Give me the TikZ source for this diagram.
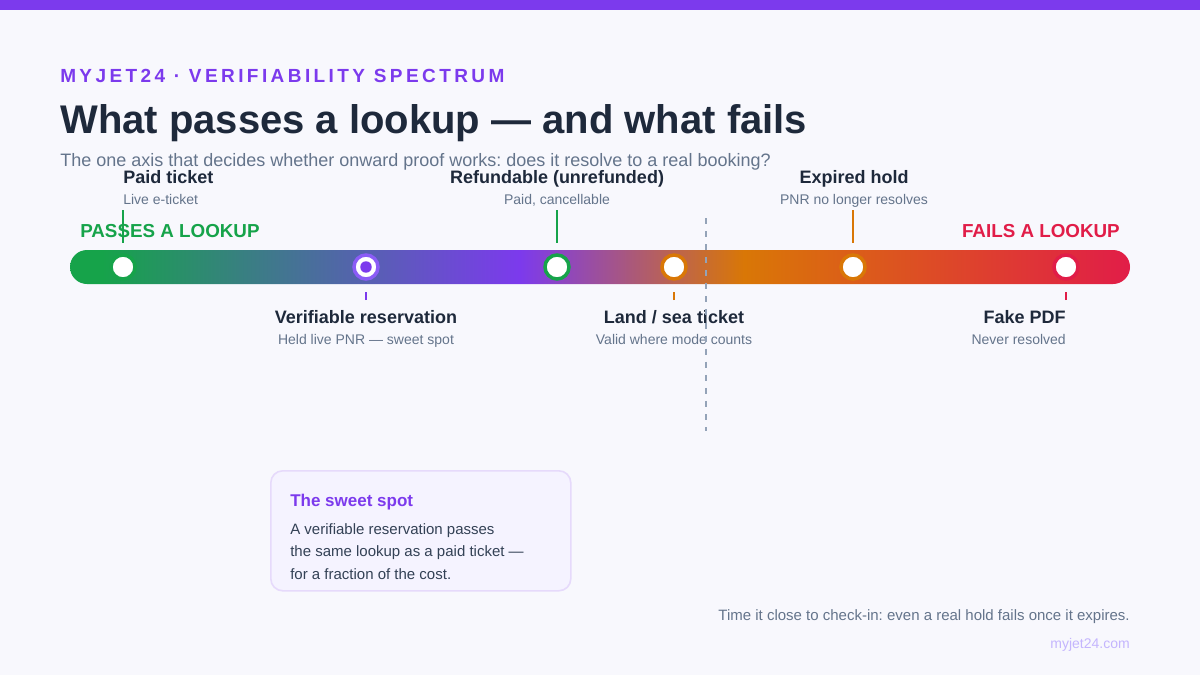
\documentclass[tikz,border=0pt]{standalone}
\usepackage{fontspec}
\setmainfont{Liberation Sans}
\newfontfamily\kickerfont[LetterSpace=18]{Liberation Sans}
\usepackage{tikz}
\frenchspacing
\definecolor{bgc}{HTML}{F8F8FD}
\definecolor{vpurple}{HTML}{7C3AED}
\definecolor{ringpurple}{HTML}{8B5CF6}
\definecolor{ink}{HTML}{1E293B}
\definecolor{slate}{HTML}{64748B}
\definecolor{passgreen}{HTML}{16A34A}
\definecolor{amber}{HTML}{D97706}
\definecolor{crimson}{HTML}{E11D48}
\definecolor{boxfill}{HTML}{F5F3FF}
\definecolor{boxline}{HTML}{E6DAFB}
\definecolor{boxtext}{HTML}{334155}
\definecolor{urlc}{HTML}{C4B5FD}
\definecolor{cutc}{HTML}{94A3B8}
\pgfdeclarehorizontalshading{spectrum}{100bp}{color(0bp)=(passgreen); color(26.5bp)=(passgreen); color(46.2bp)=(vpurple); color(56.8bp)=(amber); color(75bp)=(crimson); color(100bp)=(crimson)}

\begin{document}
\begin{tikzpicture}[x=0.75pt,y=-0.75pt,
  dot/.style={circle, fill=white, draw=#1, line width=2.6pt, minimum size=18pt, inner sep=0pt},
  tick/.style={draw=#1, line width=1.5pt},
  lbl/.style={text=ink, inner sep=0pt, font=\fontsize{13.5}{16}\selectfont\bfseries},
  sub/.style={text=slate, inner sep=0pt, font=\fontsize{10.5}{13}\selectfont},
  side/.style={text=#1, inner sep=0pt, font=\fontsize{14.1}{16}\selectfont\bfseries},
  cutline/.style={draw=cutc, line width=1.5pt, dash pattern=on 4.5pt off 5.3pt},
  sweetbox/.style={draw=boxline, fill=boxfill, line width=1.2pt, rounded corners=9pt,
    minimum width=225pt, minimum height=90pt, inner sep=0pt}]
\useasboundingbox (0,0) rectangle (1200,675);
\fill[bgc] (0,0) rectangle (1200,675);
\fill[vpurple] (0,0) rectangle (1200,10);

\node[anchor=base west, inner sep=0pt, text=vpurple, font=\kickerfont\fontsize{14.25}{17}\selectfont\bfseries] (kicker) at (60,82) {MYJET24 · VERIFIABILITY SPECTRUM};
\node[anchor=base west, inner sep=0pt, text=ink, font=\fontsize{30}{34}\selectfont\bfseries] (title) at (60,133) {What passes a lookup — and what fails};
\node[anchor=base west, inner sep=0pt, text=slate, font=\fontsize{13.5}{16}\selectfont] (subtitle) at (60,166) {The one axis that decides whether onward proof works: does it resolve to a real booking?};

\node[side=passgreen, anchor=base west] (passes) at (80,237) {PASSES A LOOKUP};
\node[side=crimson, anchor=base east] (fails) at (1120,237) {FAILS A LOOKUP};

\shade[shading=spectrum, rounded corners=12.75pt] (70,250) rectangle (1130,284);

\node[dot=passgreen] (paid) at (123,267) {};
\node[dot=ringpurple, path picture={\fill[vpurple] (path picture bounding box.center) circle (4.3pt);}] (vres) at (366,267) {};
\node[dot=passgreen] (refund) at (557,267) {};
\node[dot=amber] (landsea) at (674,267) {};
\node[dot=amber] (expired) at (853,267) {};
\node[dot=crimson] (fake) at (1066,267) {};

\node[lbl, anchor=base west] (paidname) at (123,183) {Paid ticket};
\node[sub, anchor=base west] (paidsub) at (123,204) {Live e-ticket};
\node[lbl, anchor=base] (refundname) at (557,183) {Refundable (unrefunded)};
\node[sub, anchor=base] (refundsub) at (557,204) {Paid, cancellable};
\node[lbl, anchor=base] (expiredname) at (854,183) {Expired hold};
\node[sub, anchor=base] (expiredsub) at (854,204) {PNR no longer resolves};

\node[lbl, anchor=base] (vresname) at (366,323) {Verifiable reservation};
\node[sub, anchor=base] (vressub) at (366,344) {Held live PNR — sweet spot};
\node[lbl, anchor=base] (landseaname) at (674,323) {Land / sea ticket};
\node[sub, anchor=base] (landseasub) at (674,344) {Valid where mode counts};
\node[lbl, anchor=base east] (fakename) at (1066,323) {Fake PDF};
\node[sub, anchor=base east] (fakesub) at (1066,344) {Never resolved};

\coordinate (paidtick) at (123,210);
\coordinate (refundtick) at (557,210);
\coordinate (expiredtick) at (853,210);
\coordinate (vrestick) at (366,300);
\coordinate (landseatick) at (674,300);
\coordinate (faketick) at (1066,300);
\draw[tick=passgreen, shorten >=7.5pt] (paidtick) -- (paid);
\draw[tick=passgreen, shorten >=7.5pt] (refundtick) -- (refund);
\draw[tick=amber, shorten >=7.5pt] (expiredtick) -- (expired);
\draw[tick=vpurple, shorten >=8.25pt] (vrestick) -- (vres);
\draw[tick=amber, shorten >=8.25pt] (landseatick) -- (landsea);
\draw[tick=crimson, shorten >=8.25pt] (faketick) -- (fake);

\coordinate (cuttop) at (706,218);
\coordinate (cutbot) at (706,431);
\draw[cutline] (cuttop) -- (cutbot);

\node[sweetbox, anchor=north west] (sweet) at (270,470) {};
\node[anchor=base west, inner sep=0pt, text=vpurple, font=\fontsize{12.75}{15}\selectfont\bfseries] (sweettitle) at (290,506) {The sweet spot};
\node[anchor=north west, inner sep=0pt, text=boxtext, align=left, font=\fontsize{11.25}{16.9}\selectfont] (sweetbody) at (290,523) {A verifiable reservation passes\\the same lookup as a paid ticket —\\for a fraction of the cost.};

\node[anchor=base east, inner sep=0pt, text=slate, font=\fontsize{11.25}{14}\selectfont] (note) at (1130,620) {Time it close to check-in: even a real hold fails once it expires.};
\node[anchor=base east, inner sep=0pt, text=urlc, font=\fontsize{10.5}{13}\selectfont] (url) at (1130,648) {myjet24.com};
\end{tikzpicture}
\end{document}
